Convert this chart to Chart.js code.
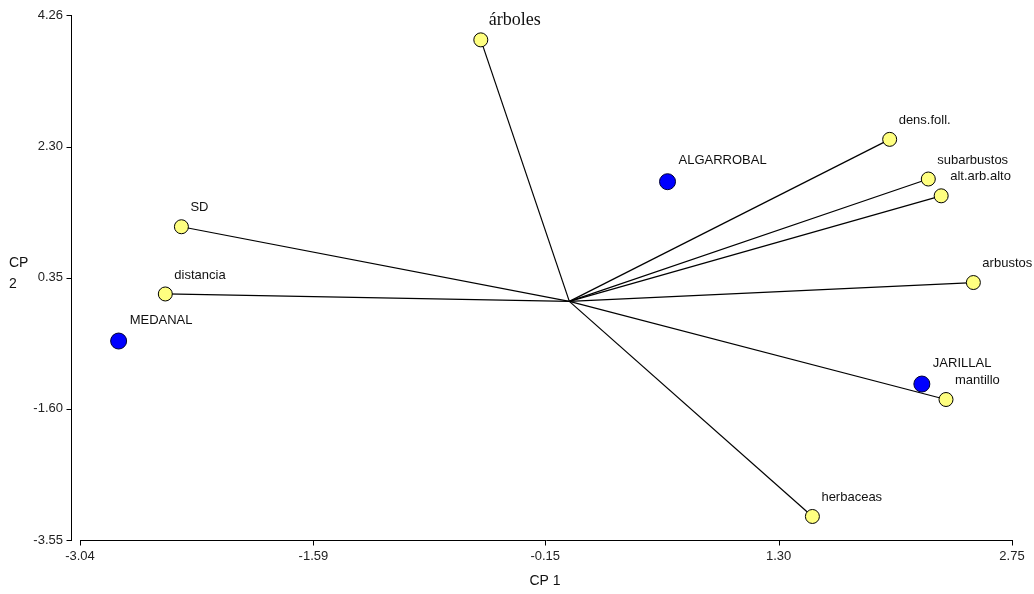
<!DOCTYPE html>
<html>
<head>
<meta charset="utf-8">
<script src="https://cdn.jsdelivr.net/npm/chart.js@4/dist/chart.umd.min.js"></script>
<style>
  body { margin: 0; background: #fff; }
  #holder { width: 1034px; height: 594px; }
</style>
</head>
<body>
<div id="holder"><canvas id="chart-area" width="1034" height="594"></canvas></div>
<script>
// variables (vectors from origin)
var varNames = ['árboles', 'dens.foll.', 'subarbustos', 'alt.arb.alto', 'arbustos', 'distancia', 'SD', 'mantillo', 'herbaceas'];
var varX = [-0.55, 1.99, 2.23, 2.31, 2.51, -2.51, -2.41, 2.34, 1.51];
var varY = [3.89, 2.41, 1.82, 1.57, 0.28, 0.11, 1.11, -1.46, -3.20];

// sites
var siteNames = ['ALGARROBAL', 'JARILLAL', 'MEDANAL'];
var siteX = [0.61, 2.19, -2.80];
var siteY = [1.78, -1.23, -0.59];

var xTicks = [-3.04, -1.59, -0.15, 1.30, 2.75];
var yTicks = [-3.55, -1.60, 0.35, 2.30, 4.26];

var sansFont = '"Liberation Sans", Arial, sans-serif';

var datasets = [];
datasets.push({
    label: 'sitios',
    data: siteX.map(function (x, i) { return { x: x, y: siteY[i] }; }),
    backgroundColor: '#0000ff',
    borderColor: '#000033',
    borderWidth: 1,
    pointRadius: 8,
    showLine: false
});
datasets.push({
    label: 'variables',
    data: varX.map(function (x, i) { return { x: x, y: varY[i] }; }),
    backgroundColor: '#ffff80',
    borderColor: '#000000',
    borderWidth: 1,
    pointRadius: 7,
    showLine: false
});
varX.forEach(function (x, i) {
    datasets.push({
        label: 'v' + i,
        data: [{ x: 0, y: 0 }, { x: x, y: varY[i] }],
        borderColor: '#000000',
        borderWidth: 1.2,
        pointRadius: 0,
        showLine: true,
        fill: false
    });
});

var labelPlugin = {
    id: 'labels',
    afterDatasetsDraw: function (chart) {
        var ctx = chart.ctx;
        var xs = chart.scales.x, ys = chart.scales.y;
        ctx.save();
        ctx.fillStyle = '#111';
        ctx.textAlign = 'left';
        ctx.textBaseline = 'middle';

        var sites = chart.getDatasetMeta(0).data;
        ctx.font = '13px ' + sansFont;
        sites.forEach(function (el, i) {
            ctx.fillText(siteNames[i], el.x + 11, el.y - 21);
        });
        var vars = chart.getDatasetMeta(1).data;
        vars.forEach(function (el, i) {
            if (varNames[i] == 'árboles') {
                ctx.font = '18px "Liberation Serif", "Times New Roman", serif';
                ctx.fillText(varNames[i], el.x + 8, el.y - 20);
                ctx.font = '13px ' + sansFont;
            } else {
                ctx.fillText(varNames[i], el.x + 9, el.y - 19);
            }
        });

        // axes
        ctx.strokeStyle = '#000';
        ctx.lineWidth = 1;
        var axX = 71.5;
        var top = ys.getPixelForValue(yTicks[yTicks.length - 1]);
        var bot = ys.getPixelForValue(yTicks[0]);
        ctx.beginPath();
        ctx.moveTo(axX, Math.round(top));
        ctx.lineTo(axX, Math.round(bot) + 1);
        yTicks.forEach(function (t) {
            var p = Math.round(ys.getPixelForValue(t)) + 0.5;
            ctx.moveTo(axX - 5, p);
            ctx.lineTo(axX, p);
        });
        var axY = Math.round(bot) + 0.5;
        var left = xs.getPixelForValue(xTicks[0]);
        var right = xs.getPixelForValue(xTicks[xTicks.length - 1]);
        ctx.moveTo(Math.round(left), axY);
        ctx.lineTo(Math.round(right) + 1, axY);
        xTicks.forEach(function (t) {
            var p = Math.round(xs.getPixelForValue(t)) + 0.5;
            ctx.moveTo(p, axY);
            ctx.lineTo(p, axY + 5);
        });
        ctx.stroke();

        // axis titles
        ctx.font = '14px ' + sansFont;
        ctx.fillStyle = '#111';
        ctx.textAlign = 'center';
        ctx.fillText('CP 1', 545, 581);
        ctx.textAlign = 'left';
        ctx.fillText('CP', 9, 263);
        ctx.fillText('2', 9, 284);
        ctx.restore();
    }
};

function init() {
    var ctx = document.getElementById('chart-area').getContext('2d');
    window.myChart = new Chart(ctx, {
        type: 'scatter',
        data: { datasets: datasets },
        options: {
            responsive: false,
            animation: false,
            layout: { padding: { top: 15, right: 22, left: 0, bottom: 0 } },
            plugins: { legend: { display: false }, tooltip: { enabled: false } },
            scales: {
                x: {
                    type: 'linear',
                    min: xTicks[0],
                    max: xTicks[xTicks.length - 1],
                    afterBuildTicks: function (s) { s.ticks = xTicks.map(function (v) { return { value: v }; }); },
                    afterFit: function (s) { s.height = 54; s.paddingLeft = 0; s.paddingRight = 0; },
                    grid: { display: false, drawTicks: false },
                    border: { display: false },
                    ticks: {
                        padding: 9,
                        color: '#222',
                        font: { family: sansFont, size: 13 },
                        maxRotation: 0,
                        autoSkip: false,
                        callback: function (v) { return v.toFixed(2); }
                    }
                },
                y: {
                    type: 'linear',
                    min: yTicks[0],
                    max: yTicks[yTicks.length - 1],
                    afterBuildTicks: function (s) { s.ticks = yTicks.map(function (v) { return { value: v }; }); },
                    afterFit: function (s) { s.width = 80; s.paddingTop = 0; s.paddingBottom = 0; },
                    grid: { display: false, drawTicks: false },
                    border: { display: false },
                    ticks: {
                        padding: 17,
                        color: '#222',
                        font: { family: sansFont, size: 13 },
                        autoSkip: false,
                        callback: function (v) { return v.toFixed(2); }
                    }
                }
            }
        },
        plugins: [labelPlugin]
    });
}
init();
</script>
</body>
</html>
